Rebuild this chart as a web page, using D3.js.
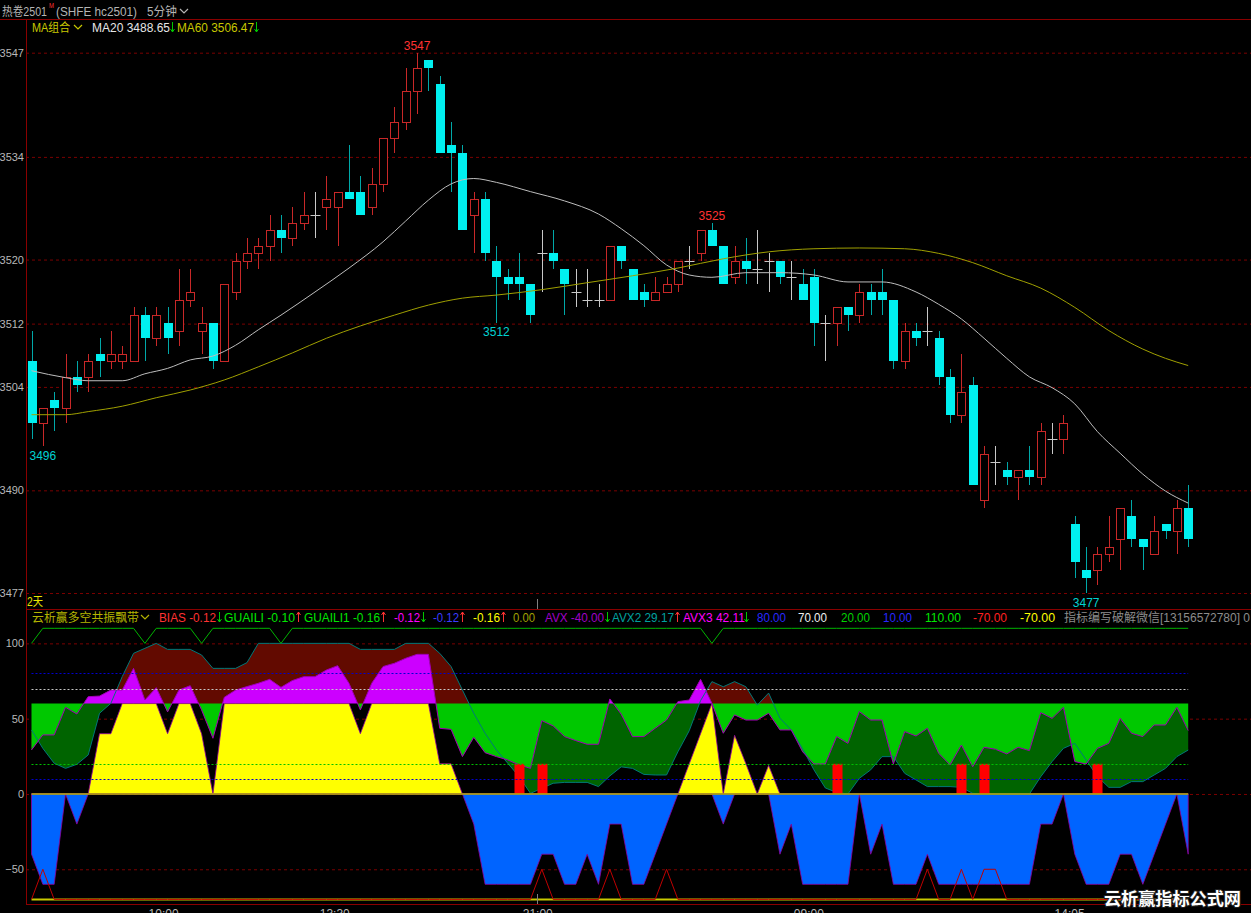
<!DOCTYPE html>
<html><head><meta charset="utf-8">
<script src="https://cdn.jsdelivr.net/npm/d3@7"></script>
<style>html,body{margin:0;padding:0;background:#000;overflow:hidden}svg{display:block}</style>
</head><body>
<svg id="c" width="1251" height="913"></svg>
<script>
// ---------------- DATA ----------------
const open = [3507,3499,3502,3501,3505,3505,3508,3507,3507,3507,
3513,3510,3512,3511,3515,3511,3512,3507,3516,3520,
3521,3522,3524,3523,3525,3526,3527,3527,3529,3529,
3527,3530,3536,3538,3542,3546,3543,3535,3534,3526,
3528,3520,3518,3518,3517,3521,3521,3519,3516,3515,
3515,3515,3522,3519,3516,3515,3516,3517,3520,3521,
3524,3522,3518,3520,3519,3520,3520,3518,3517,3518,
3512,3512,3514,3513,3516,3516,3515,3507,3511,3511,
3510,3505,3500,3504,3489,3494,3493,3492,3493,3492,
3497,3497,3486,3480,3480,3482,3484,3487,3484,3482,
3486,3485,3488];
const high = [3511,3501,3503,3508,3507,3508,3510,3511,3509,3514,
3514,3514,3514,3519,3519,3514,3512,3517,3521,3523,
3523,3526,3526,3527,3529,3529,3531,3529,3535,3531,
3532,3536,3540,3545,3547,3546,3544,3538,3535,3529,
3529,3522,3519,3521,3517,3524,3524,3519,3519,3519,
3517,3522,3522,3519,3517,3518,3518,3520,3522,3524,
3525,3522,3522,3523,3524,3521,3520,3520,3519,3519,
3513,3514,3514,3517,3517,3519,3515,3512,3512,3514,
3511,3506,3508,3505,3496,3496,3494,3493,3496,3499,
3499,3500,3487,3483,3483,3487,3488,3489,3484,3487,
3486,3489,3491];
const low = [3497,3496,3498,3499,3503,3503,3505,3506,3506,3507,
3507,3509,3508,3509,3514,3508,3506,3507,3515,3519,
3519,3520,3521,3522,3524,3523,3524,3522,3528,3526,
3526,3529,3534,3537,3539,3542,3534,3529,3524,3521,
3520,3512,3515,3515,3512,3516,3519,3513,3514,3514,
3514,3515,3519,3515,3514,3515,3516,3516,3519,3520,
3522,3517,3517,3517,3517,3516,3517,3515,3515,3509,
3507,3509,3511,3512,3513,3513,3506,3506,3509,3509,
3504,3499,3499,3491,3488,3491,3491,3489,3491,3491,
3495,3495,3479,3477,3478,3481,3480,3483,3480,3482,
3484,3482,3483];
const close = [3499,3501,3501,3505,3504,3507,3507,3508,3508,3513,
3510,3513,3510,3515,3516,3512,3507,3517,3520,3521,
3522,3524,3523,3525,3526,3526,3528,3529,3528,3526,
3530,3536,3538,3542,3545,3545,3534,3534,3524,3528,
3521,3518,3517,3517,3513,3521,3520,3517,3516,3515,
3515,3522,3520,3515,3515,3516,3517,3520,3520,3524,
3522,3517,3520,3519,3519,3520,3518,3518,3515,3512,
3512,3514,3513,3516,3515,3515,3507,3511,3510,3511,
3505,3500,3503,3491,3495,3494,3492,3493,3492,3498,
3497,3499,3481,3479,3482,3483,3488,3484,3483,3485,
3485,3488,3484];

const ma20Idx = [0,3,5,8,10,12,14,16,18,20,22,25,28,31,33,35,37,39,41,44,47,50,52,54,56,58,60,63,66,69,72,75,78,80,82,84,86,88,90,92,94,96,98,100,102];
const ma20Val = [3505.8,3504.9,3504.5,3504.5,3505.4,3506.1,3507.2,3507.7,3509.1,3511.1,3513.0,3516.0,3519.1,3522.5,3525.2,3527.9,3530.0,3530.7,3530.2,3529.0,3527.8,3526.1,3524.2,3522.0,3519.5,3518.2,3517.9,3518.5,3518.5,3518.2,3517.3,3517.3,3516.0,3514.4,3512.5,3510.0,3507.4,3505.0,3503.6,3501.5,3497.9,3495.1,3492.4,3490.2,3488.65];
const ma60Idx = [0,3,5,8,11,14,17,20,23,26,29,32,35,38,41,45,49,53,57,61,65,69,73,77,80,83,86,89,92,95,98,100,102];
const ma60Val = [3500.1,3500.1,3500.5,3501.2,3502.3,3503.3,3504.6,3506.3,3508.1,3510.0,3511.6,3513.0,3514.3,3515.2,3515.6,3516.3,3517.2,3518.1,3519.1,3520.3,3521.2,3521.6,3521.7,3521.6,3521.0,3519.8,3518.1,3516.5,3514.0,3511.0,3508.6,3507.4,3506.47];

const priceTicks = [3547,3533.5,3520.2,3511.9,3503.7,3490.3,3477];
const priceTickLabels = ['3547','3534','3520','3512','3504','3490','3477'];
const highMarks = [34,60];
const lowMarks = [1,41,93];

const timeIdx = [11.6,26.7,44.6,68.5,91.5];
const timeLabels = ['10:00','13:30','21:00','09:00','14:05'];

// indicator series
const avx3 = [29.2,39.2,39.2,57.5,53.1,64.6,65,69,69,83.4,
62.4,70.6,54.5,69,71.9,55.8,37,64.2,69,71.3,
73.5,76.1,70.8,75.3,77.9,77.9,82.3,85.2,73.5,55.8,
73.5,84.6,86.8,90.1,92.7,92.7,43.6,42.9,24.8,37.6,
27.4,24.8,22.6,19.3,17,48.7,45.2,38.1,35.4,33,
33,63.1,53,38.1,38.1,43.6,49.1,61.3,62.4,76.1,
60.2,40.3,52.5,49.1,49.1,53.6,42.5,42.5,28,19.9,
19.9,38.1,33.6,54.7,49.1,49.1,19.9,41.4,38.5,43.6,
27,19.3,32.5,18.1,31,29.7,26.6,31,28.8,54,
50.2,57.5,21.5,19.9,30.3,33.6,50.2,40.3,38.1,45.8,
45.8,57.5,42.11];
const avx2 = [42.5,30.3,20.4,17,19.7,25.9,53.6,60.2,77.9,93.4,
96.7,100,96,96,96,92.3,83.4,83.4,83.4,87.2,
100,100,100,100,100,100,100,100,100,96,
96,96,96,100,100,100,93.4,84.6,69,53.6,
40.3,29.2,20.4,11.5,0.4,3.8,7.1,7.7,7.7,7.7,
4.9,12,18,17,13,12.6,12.6,28,42,62,
74.6,71.2,74.6,71.2,59,67,50.3,42.5,30,16,
4,1,0,10.4,16,24.8,24.8,13.7,9.3,4.9,
4.9,4.9,4.4,0.4,0,0,0,0,0,11.5,
21.5,30.3,33.6,22.6,11.5,4.4,4.4,8.2,8.2,12.6,
17,24.8,29.17];
const avx = [-40,-60,-60,0,-20,0,0,0,0,0,
0,0,0,0,0,0,0,0,0,0,
0,0,0,0,0,0,0,0,0,0,
0,0,0,0,0,0,0,0,0,-20,
-60,-60,-60,-60,-60,-40,-40,-60,-60,-40,
-60,-20,-20,-60,-60,-40,-20,0,0,0,
0,-20,0,0,0,0,-40,-20,-60,-60,
-60,-60,-60,0,-40,-20,-60,-60,-60,-40,
-60,-60,-60,-60,-60,-60,-60,-60,-60,-20,
-20,0,-40,-60,-60,-60,-40,-40,-60,-40,
-20,0,-40];
const yband = [0,0,0,0,0,0,40,40,60,60,
60,60,40,60,60,40,0,60,60,60,
60,60,60,60,60,60,60,60,60,40,
60,60,60,60,60,60,20,20,0,0,
0,0,0,0,0,0,0,0,0,0,
0,0,0,0,0,0,0,0,20,40,
60,0,39,20,0,19,0,0,0,0,
0,0,0,0,0,0,0,0,0,0,
0,0,0,0,0,0,0,0,0,0,
0,0,0,0,0,0,0,0,0,0,
0,0,0];
const stickIdx = [43,45,71,82,84,94];      // red sticks 0..20
const stickTop = 20;
const topLineBase = 110, topLineDip = 100;
const topLineDipIdx = [0,10,15,22,60];
const botLineBase = -70, botLinePeak = -50;
const botLinePeakIdx = [1,45,51,56,79,82,84,85];
const bandMid = 60;
const refLevels = [80,70,20,10];
const indTicks = [100,50,0,-50];

// ---------------- DRAW ----------------
const W = 1251, H = 913, n = open.length;
const FONT = '"Liberation Sans","Noto Sans CJK SC",Arial,sans-serif';
const svg = d3.select('#c');
svg.append('rect').attr('width', W).attr('height', H).attr('fill', '#000');

const x = d3.scaleLinear().domain([0, n - 1]).range([31.5, 1188.2]);
const y = d3.scaleLinear().domain([3477, 3547]).range([593, 52.7]);
const yi = d3.scaleLinear().domain([-70, 110]).range([899.4, 628.3]);
const px = i => Math.round(x(i)) + 0.5;

const borderCol = '#8a0000';

// main grid via axis
const ga = svg.append('g').attr('transform', 'translate(26,0)')
  .call(d3.axisLeft(y).tickValues(priceTicks).tickFormat((d, i) => priceTickLabels[i]).tickSize(-1225).tickSizeOuter(0).tickPadding(2));
ga.select('.domain').remove();
ga.selectAll('line').attr('stroke', '#7a0000').attr('stroke-dasharray', '3,3');
ga.selectAll('text').attr('fill', '#b8b8b8').attr('font-size', 11).attr('font-family', FONT);

// indicator grid
const gi = svg.append('g').attr('transform', 'translate(26,0)')
  .call(d3.axisLeft(yi).tickValues(indTicks).tickSize(-1225).tickSizeOuter(0).tickPadding(2));
gi.select('.domain').remove();
gi.selectAll('line').attr('stroke', '#7a0000').attr('stroke-dasharray', '3,3');
gi.selectAll('text').attr('fill', '#b8b8b8').attr('font-size', 11).attr('font-family', FONT);

// ---- indicator fills ----
const gInd = svg.append('g');
function band(a, b, colA, colB) {
  const pts = [];
  const bv = i => (typeof b === 'number') ? b : b[i];
  for (let i = 0; i < n; i++) {
    if (i > 0) {
      const dp = a[i - 1] - bv(i - 1), dc = a[i] - bv(i);
      if (dp * dc < 0) {
        const t = dp / (dp - dc);
        const v = a[i - 1] + (a[i] - a[i - 1]) * t;
        pts.push({ x: i - 1 + t, a: v, b: v });
      }
    }
    pts.push({ x: i, a: a[i], b: bv(i) });
  }
  gInd.append('path').attr('d', d3.area().x(d => x(d.x)).y0(d => yi(d.b)).y1(d => yi(Math.max(d.a, d.b)))(pts)).attr('fill', colA);
  gInd.append('path').attr('d', d3.area().x(d => x(d.x)).y0(d => yi(d.b)).y1(d => yi(Math.min(d.a, d.b)))(pts)).attr('fill', colB);
}
band(avx2, avx3, '#620a00', '#006400');
band(avx3, bandMid, '#cc00ff', '#00c800');

const idx = d3.range(n);
gInd.append('path').attr('d', d3.area().x(i => x(i)).y0(yi(0)).y1(i => yi(yband[i]))(idx))
  .attr('fill', '#ffff00').attr('stroke', '#9000a0').attr('stroke-width', 0.8);
gInd.append('path').attr('d', d3.area().x(i => x(i)).y0(yi(0)).y1(i => yi(avx[i]))(idx))
  .attr('fill', '#0064ff').attr('stroke', '#9000a0').attr('stroke-width', 0.8);

// lines
gInd.append('path').attr('d', d3.line().x(i => x(i)).y(i => yi(avx2[i]))(idx)).attr('fill', 'none').attr('stroke', '#007878').attr('stroke-width', 1);
gInd.append('path').attr('d', d3.line().x(i => x(i)).y(i => yi(avx3[i]))(idx)).attr('fill', 'none').attr('stroke', '#a000b4').attr('stroke-width', 1);

// red sticks
gInd.selectAll('rect.stk').data(stickIdx).join('rect')
  .attr('x', i => Math.round(x(i)) - 4.5).attr('width', 10)
  .attr('y', yi(stickTop)).attr('height', yi(0) - yi(stickTop)).attr('fill', '#ff0000');

// reference dotted levels
const refCols = ['#0000d0', '#c8c8c8', '#00c000', '#0000d0'];
refLevels.forEach((v, k) => {
  gInd.append('line').attr('x1', x(0)).attr('x2', x(n - 1)).attr('y1', Math.round(yi(v)) + 0.5).attr('y2', Math.round(yi(v)) + 0.5)
    .attr('stroke', refCols[k]).attr('stroke-dasharray', '2,2').attr('stroke-width', 1);
});
// zero line
gInd.append('line').attr('x1', x(0)).attr('x2', x(n - 1)).attr('y1', yi(0)).attr('y2', yi(0)).attr('stroke', '#b4b400').attr('stroke-width', 1.5);
// top 110 line
const topSeries = idx.map(i => topLineDipIdx.includes(i) ? topLineDip : topLineBase);
gInd.append('path').attr('d', d3.line().x(i => x(i)).y(i => yi(topSeries[i]))(idx)).attr('fill', 'none').attr('stroke', '#00b400').attr('stroke-width', 1);
// bottom -70 lines
const botSeries = idx.map(i => botLinePeakIdx.includes(i) ? botLinePeak : botLineBase);
gInd.append('line').attr('x1', x(0)).attr('x2', x(n - 1)).attr('y1', yi(botLineBase)).attr('y2', yi(botLineBase)).attr('stroke', '#c8c800').attr('stroke-width', 2);
gInd.append('path').attr('d', d3.line().x(i => x(i)).y(i => yi(botSeries[i]))(idx)).attr('fill', 'none').attr('stroke', '#c00000').attr('stroke-width', 1);

// ---- candles ----
const gc = svg.append('g');
idx.forEach(i => {
  const o = open[i], c = close[i], h = high[i], l = low[i];
  const cx = px(i);
  const up = c > o, dn = c < o;
  const wickCol = up ? '#c82828' : (dn ? '#00a8a8' : '#c8c8c8');
  gc.append('line').attr('x1', cx).attr('x2', cx).attr('y1', Math.round(y(h))).attr('y2', Math.round(y(l))).attr('stroke', wickCol).attr('stroke-width', 1);
  if (up) {
    const yt = Math.round(y(c)) + 0.5, yb = Math.round(y(o)) + 0.5;
    gc.append('rect').attr('x', cx - 4).attr('y', yt).attr('width', 8).attr('height', Math.max(1, yb - yt))
      .attr('fill', '#000').attr('stroke', '#c82828').attr('stroke-width', 1);
  } else if (dn) {
    const yt = Math.round(y(o)), yb = Math.round(y(c));
    gc.append('rect').attr('x', cx - 4.5).attr('y', yt).attr('width', 9).attr('height', Math.max(1, yb - yt)).attr('fill', '#00f0f0');
  } else {
    const yy = Math.round(y(o)) + 0.5;
    gc.append('line').attr('x1', cx - 5).attr('x2', cx + 5).attr('y1', yy).attr('y2', yy).attr('stroke', '#c8c8c8');
  }
});

// MA lines
svg.append('path').attr('d', d3.line().curve(d3.curveMonotoneX).x((d, k) => x(ma20Idx[k])).y(d => y(d))(ma20Val))
  .attr('fill', 'none').attr('stroke', '#bdbdbd').attr('stroke-width', 1);
svg.append('path').attr('d', d3.line().curve(d3.curveMonotoneX).x((d, k) => x(ma60Idx[k])).y(d => y(d))(ma60Val))
  .attr('fill', 'none').attr('stroke', '#a0a000').attr('stroke-width', 1);

// extreme labels
highMarks.forEach(i => svg.append('text').attr('x', x(i)).attr('y', y(high[i]) - 3).attr('text-anchor', 'middle')
  .attr('fill', '#ff3232').attr('font-size', 12).attr('font-family', FONT).text(high[i]));
lowMarks.forEach(i => svg.append('text').attr('x', x(i)).attr('y', y(low[i]) + 13.5).attr('text-anchor', 'middle')
  .attr('fill', '#00d2d2').attr('font-size', 12).attr('font-family', FONT).text(low[i]));

// ---- frame lines ----
const fr = svg.append('g').attr('stroke', borderCol).attr('stroke-width', 1);
fr.append('line').attr('x1', 0).attr('x2', W).attr('y1', 19.5).attr('y2', 19.5);
fr.append('line').attr('x1', 26.5).attr('x2', 26.5).attr('y1', 19).attr('y2', 905);
fr.append('line').attr('x1', 26).attr('x2', W).attr('y1', 609.5).attr('y2', 609.5);
fr.append('line').attr('x1', 26).attr('x2', W).attr('y1', 904.5).attr('y2', 904.5);
// day separator ticks
svg.append('line').attr('x1', 537.5).attr('x2', 537.5).attr('y1', 599).attr('y2', 609).attr('stroke', '#808080');
svg.append('line').attr('x1', 537.5).attr('x2', 537.5).attr('y1', 894).attr('y2', 904).attr('stroke', '#808080');

// time axis (the reference shows these labels half cut by the window bottom)
const gt = svg.append('g').attr('transform', 'translate(0,904)')
  .call(d3.axisBottom(x).tickValues(timeIdx).tickFormat((d, i) => timeLabels[i]).tickSize(0).tickPadding(5));
gt.select('.domain').remove();
gt.selectAll('text').attr('fill', '#b8b8b8').attr('font-size', 12).attr('font-family', FONT);

// ---- text helpers ----
function txt(xp, yp, s, col, w, size) {
  const t = svg.append('text').attr('x', xp).attr('y', yp).attr('fill', col).attr('font-size', size || 12).attr('font-family', FONT).text(s);
  if (w) t.attr('textLength', w).attr('lengthAdjust', 'spacingAndGlyphs');
  return t;
}
function chevron(xp, yb, col) {
  svg.append('path').attr('d', `M${xp},${yb - 7}L${xp + 4},${yb - 3}L${xp + 8},${yb - 7}`).attr('fill', 'none').attr('stroke', col).attr('stroke-width', 1.2);
}
function arrow(xp, yb, upDir) {
  const cx = xp + 1.5, top = yb - 10, bot = yb;
  const col = upDir ? '#ff3232' : '#00c800';
  const d = upDir ? `M${cx},${bot}L${cx},${top}M${cx - 2},${top + 3}L${cx},${top}L${cx + 2},${top + 3}`
                  : `M${cx},${top}L${cx},${bot}M${cx - 2},${bot - 3}L${cx},${bot}L${cx + 2},${bot - 3}`;
  svg.append('path').attr('d', d).attr('fill', 'none').attr('stroke', col).attr('stroke-width', 1);
}

// header row 1
txt(2, 16, '热卷2501', '#b4b4b4', 45);
txt(49, 8, 'M', '#ff3232', 5, 8);
txt(56, 16, '(SHFE hc2501)', '#b4b4b4', 81);
txt(147, 16, '5分钟', '#b4b4b4', 30);
chevron(180, 16, '#b4b4b4');
// header row 2
txt(32, 32, 'MA组合', '#c8c800', 38);
chevron(74, 32, '#c8c800');
txt(92, 32, 'MA20 3488.65', '#e6e6e6', 78);
arrow(171, 32, false);
txt(177, 32, 'MA60 3506.47', '#c8c800', 77);
arrow(255, 32, false);

txt(27, 606, '2天', '#e6e600', 16);

// indicator header
const IB = 622;
txt(32, IB, '云析赢多空共振飘带', '#b4b400', 107);
chevron(141, IB, '#b4b400');
txt(159, IB, 'BIAS -0.12', '#ff3232', 57); arrow(218, IB, false);
txt(224, IB, 'GUAILI -0.10', '#00e600', 71); arrow(297, IB, true);
txt(304, IB, 'GUAILI1 -0.16', '#00e600', 76); arrow(382, IB, true);
txt(394, IB, '-0.12', '#ff00ff', 26); arrow(422, IB, false);
txt(433, IB, '-0.12', '#3c3cff', 26); arrow(461, IB, true);
txt(473, IB, '-0.16', '#ffff00', 27); arrow(502, IB, true);
txt(513, IB, '0.00', '#a0a000', 22);
txt(545, IB, 'AVX -40.00', '#a000c8', 59); arrow(606, IB, false);
txt(612, IB, 'AVX2 29.17', '#00a0a0', 62); arrow(676, IB, true);
txt(683, IB, 'AVX3 42.11', '#ff00ff', 62); arrow(745, IB, false);
txt(757, IB, '80.00', '#2828ff', 29);
txt(798, IB, '70.00', '#f0f0f0', 29);
txt(841, IB, '20.00', '#00d200', 29);
txt(883, IB, '10.00', '#2828ff', 29);
txt(925, IB, '110.00', '#00e600', 36);
txt(973, IB, '-70.00', '#ff2020', 34);
txt(1020, IB, '-70.00', '#ffff00', 35);
txt(1064, IB, '指标编写破解微信[13156572780] 0', '#8c8c8c', 186);

// watermark
svg.append('text').attr('x', 1104).attr('y', 905).attr('fill', '#ffffff').attr('stroke', '#202020').attr('stroke-width', 2)
  .attr('paint-order', 'stroke').attr('font-size', 17).attr('font-weight', 'bold').attr('font-family', '"Noto Sans CJK SC",sans-serif')
  .attr('textLength', 137).attr('lengthAdjust', 'spacingAndGlyphs').text('云析赢指标公式网');
</script>
</body></html>
